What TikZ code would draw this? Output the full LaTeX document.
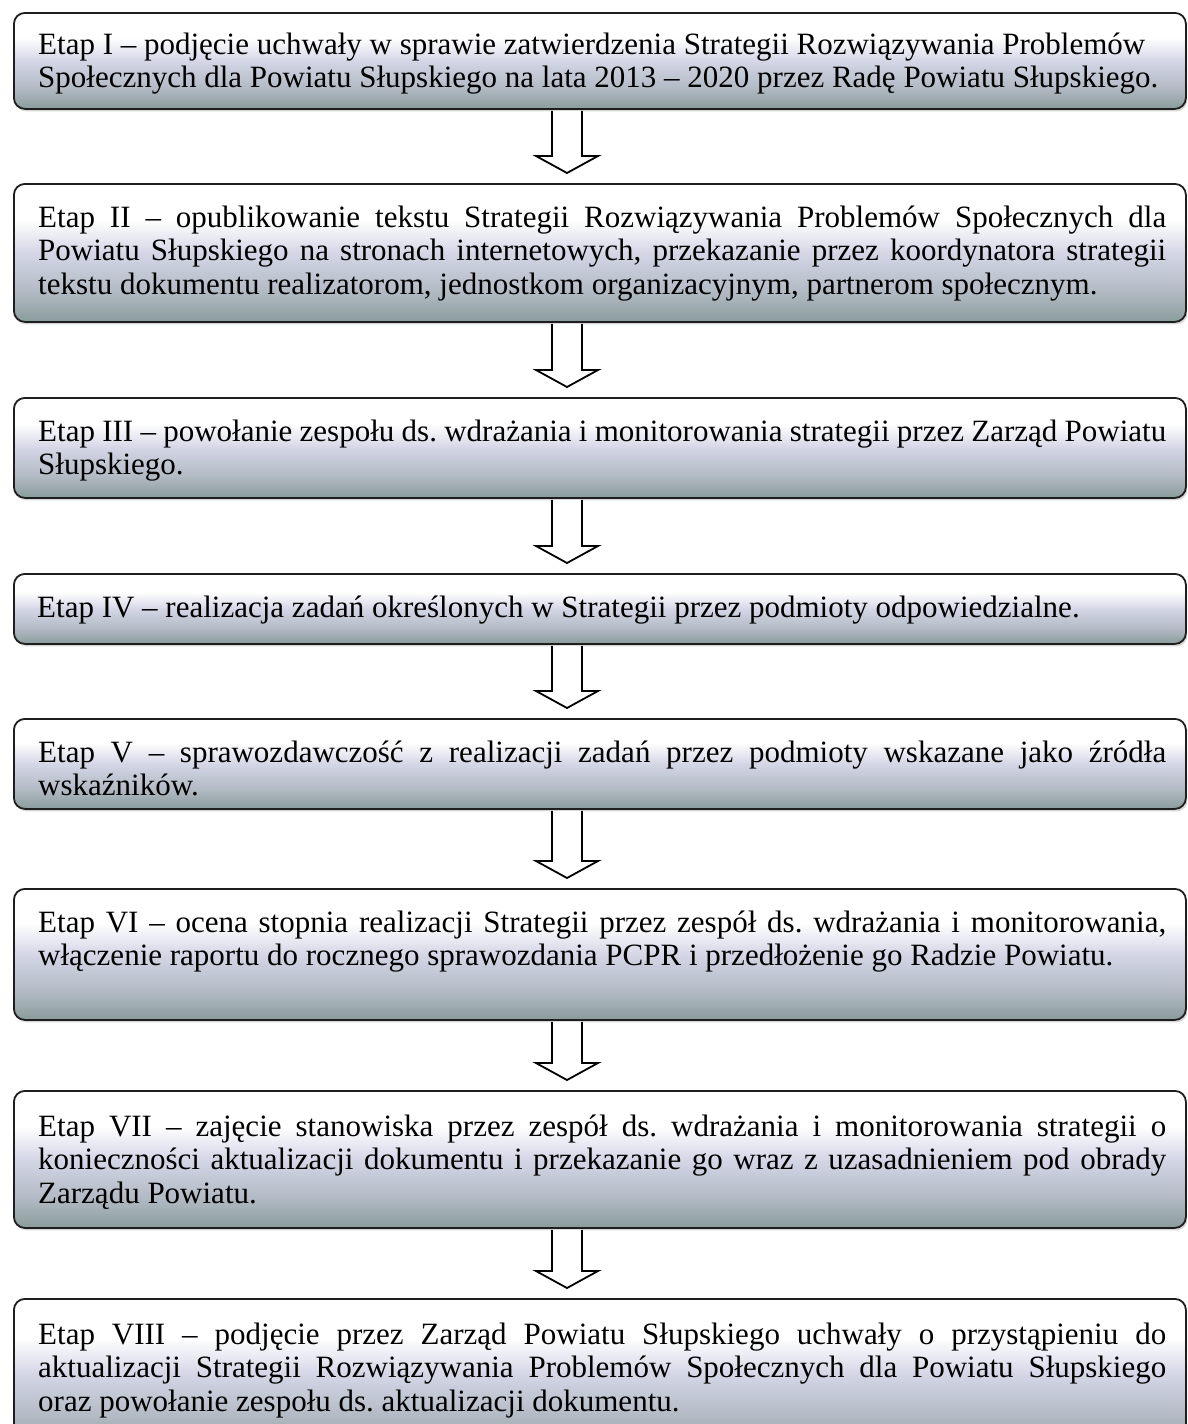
\documentclass[tikz,border=0pt]{standalone}
\usepackage{fontspec}
\setmainfont{Liberation Serif}
\usetikzlibrary{calc,shadows}
\definecolor{sbot}{RGB}{138,156,156}
\definecolor{smid}{RGB}{178,186,196}
\definecolor{slav}{RGB}{212,214,230}
\definecolor{bordc}{RGB}{30,30,30}
\pgfdeclareverticalshading{boxshade}{100bp}{color(0bp)=(sbot); color(25bp)=(sbot); color(36bp)=(smid); color(50bp)=(slav); color(62bp)=(white); color(75bp)=(white); color(100bp)=(white)}
\newcommand{\ns}{\spaceskip=0pt\xspaceskip=0pt\relax}
\newcommand{\jl}[1]{\leavevmode\hbox to 1128pt{\ns #1}}
\frenchspacing
\begin{document}
\begin{tikzpicture}[x=1pt,y=-1pt,
  stagebox/.style={draw=bordc, line width=1.8pt, rounded corners=11pt, shading=boxshade,
    anchor=north west, minimum width=1172pt, inner sep=0pt,
    drop shadow={shadow xshift=1.5pt, shadow yshift=-2.5pt, fill=black!35, opacity=.45}},
  stagetext/.style={anchor=base west, inner sep=0pt, text width=1128pt, align=left,
    font=\fontsize{31}{33.5}\selectfont\frenchspacing},
  barrow/.style={draw=black, line width=1.8pt, fill=white, line join=miter}]
\useasboundingbox (0,0) rectangle (1187,1424);
\clip (0,0) rectangle (1187,1424);
\coordinate (ax) at (567,0);
\newcommand{\flowarrow}[2]{%
  \path (#1.south -| ax) coordinate (s#1) (#2.north -| ax) coordinate (e#1);
  \draw[barrow] ($(s#1)+(-15pt,-1pt)$) -- ($(e#1)+(-15pt,27pt)$) -- ($(e#1)+(-31pt,27pt)$)
    -- ($(e#1)+(0,10pt)$) -- ($(e#1)+(31pt,27pt)$) -- ($(e#1)+(15pt,27pt)$) -- ($(s#1)+(15pt,-1pt)$);}
% boxes
\node[stagebox, minimum height=96pt]  (b1) at (13,12)   {};
\node[stagebox, minimum height=138pt] (b2) at (13,183)  {};
\node[stagebox, minimum height=100pt] (b3) at (13,397)  {};
\node[stagebox, minimum height=70pt]  (b4) at (13,573)  {};
\node[stagebox, minimum height=90pt]  (b5) at (13,718)  {};
\node[stagebox, minimum height=131pt] (b6) at (13,888)  {};
\node[stagebox, minimum height=137pt] (b7) at (13,1090) {};
\node[stagebox, minimum height=150pt] (b8) at (13,1298) {};
% texts
\node[stagetext] (t1) at ($(b1.north west)+(25pt,-42pt)$) {\ns
Etap I – podjęcie uchwały w sprawie zatwierdzenia Strategii Rozwiązywania Problemów\\
Społecznych dla Powiatu Słupskiego na lata 2013 – 2020 przez Radę Powiatu Słupskiego.};
\node[stagetext] (t2) at ($(b2.north west)+(25pt,-44pt)$) {\ns
\jl{Etap II – opublikowanie tekstu Strategii Rozwiązywania Problemów Społecznych dla}\\
\jl{Powiatu Słupskiego na stronach internetowych, przekazanie przez koordynatora strategii}\\
tekstu dokumentu realizatorom, jednostkom organizacyjnym, partnerom społecznym.};
\node[stagetext] (t3) at ($(b3.north west)+(25pt,-44pt)$) {\ns
\jl{Etap III – powołanie zespołu ds. wdrażania i monitorowania strategii przez Zarząd Powiatu}\\
Słupskiego.};
\node[stagetext] (t4) at ($(b4.north west)+(24pt,-44pt)$) {\ns
Etap IV – realizacja zadań określonych w Strategii przez podmioty odpowiedzialne.};
\node[stagetext] (t5) at ($(b5.north west)+(25pt,-44pt)$) {\ns
\jl{Etap V – sprawozdawczość z realizacji zadań przez podmioty wskazane jako źródła}\\
wskaźników.};
\node[stagetext] (t6) at ($(b6.north west)+(25pt,-44pt)$) {\ns
\jl{Etap VI – ocena stopnia realizacji Strategii przez zespół ds. wdrażania i monitorowania,}\\
włączenie raportu do rocznego sprawozdania PCPR i przedłożenie go Radzie Powiatu.};
\node[stagetext] (t7) at ($(b7.north west)+(25pt,-46pt)$) {\ns
\jl{Etap VII – zajęcie stanowiska przez zespół ds. wdrażania i monitorowania strategii o}\\
\jl{konieczności aktualizacji dokumentu i przekazanie go wraz z uzasadnieniem pod obrady}\\
Zarządu Powiatu.};
\node[stagetext] (t8) at ($(b8.north west)+(25pt,-46pt)$) {\ns
\jl{Etap VIII – podjęcie przez Zarząd Powiatu Słupskiego uchwały o przystąpieniu do}\\
\jl{aktualizacji Strategii Rozwiązywania Problemów Społecznych dla Powiatu Słupskiego}\\
oraz powołanie zespołu ds. aktualizacji dokumentu.};
% arrows
\flowarrow{b1}{b2}
\flowarrow{b2}{b3}
\flowarrow{b3}{b4}
\flowarrow{b4}{b5}
\flowarrow{b5}{b6}
\flowarrow{b6}{b7}
\flowarrow{b7}{b8}
\end{tikzpicture}
\end{document}
